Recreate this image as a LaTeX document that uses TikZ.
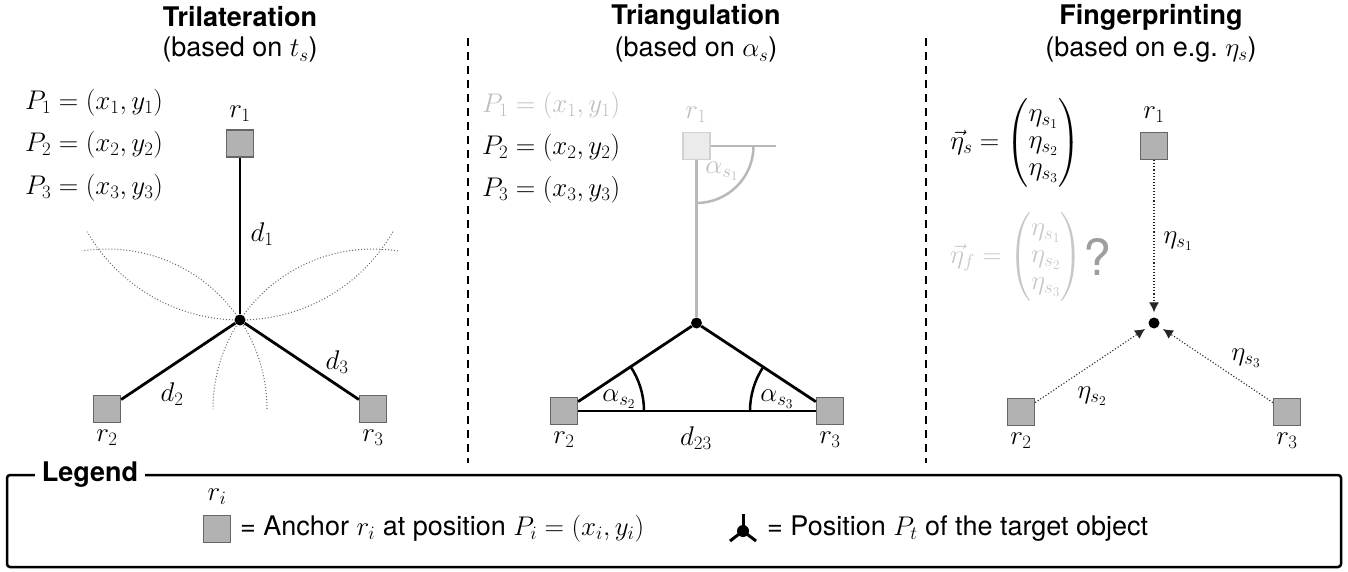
\RequirePackage{fix-cm}
\documentclass[tikz,border=0pt]{standalone}
\usepackage{amsmath}
\usepackage{fontspec}
\setsansfont{TeX Gyre Heros}
\usetikzlibrary{arrows.meta}
\begin{document}
\begin{tikzpicture}[x=1pt,y=-1pt,
  every node/.style={font=\fontsize{27}{32}\selectfont, inner sep=0pt},
  anchorbox/.style={draw=black!60, fill=gray!60, line width=1.3pt, minimum size=27pt, inner sep=0pt},
  ghostbox/.style={draw=black!18, fill=black!8, line width=1.3pt, minimum size=27pt, inner sep=0pt},
  linkline/.style={line width=2.8pt},
  ghostline/.style={draw=black!28, line width=2.6pt},
  ringarc/.style={dotted, draw=black!60, line width=1pt},
  sigline/.style={dotted, draw=black!85, line width=1.1pt, -{Latex[length=10pt,width=10pt]}, shorten >=5pt},
  sepline/.style={dash pattern=on 8pt off 6pt, line width=1.2pt},
  tgtdot/.style={circle, fill=black, minimum size=11pt, inner sep=0pt},
  headtxt/.style={font=\fontsize{27}{32}\selectfont\sffamily\bfseries},
  subtxt/.style={font=\fontsize{27}{32}\selectfont\sffamily},
  ghosttxt/.style={text=black!25}]
\useasboundingbox (0,0) rectangle (1348,572);

% ---------- titles ----------
\node[headtxt] (h1) at (240,17) {Trilateration};
\node[subtxt]  (s1) at (240,50) {(based on $t_s$)};
\node[headtxt] (h2) at (696,17) {Triangulation};
\node[subtxt]  (s2) at (696,50) {(based on $\alpha_s$)};
\node[headtxt] (h3) at (1151,17) {Fingerprinting};
\node[subtxt]  (s3) at (1151,50) {(based on e.g.\ $\eta_s$)};

% ---------- separators ----------
\coordinate (sepAt) at (468,38);
\coordinate (sepAb) at (468,463);
\coordinate (sepBt) at (926,38);
\coordinate (sepBb) at (926,463);
\draw[sepline] (sepAt) -- (sepAb);
\draw[sepline] (sepBt) -- (sepBb);

% ---------- panel 1: trilateration ----------
\node[anchor=west] (p1a) at (25,103) {$P_1 = (x_1, y_1)$};
\node[anchor=west] (p1b) at (25,145) {$P_2 = (x_2, y_2)$};
\node[anchor=west] (p1c) at (25,188) {$P_3 = (x_3, y_3)$};

\node[anchorbox] (a1) at (240,143.5) {};
\node[anchorbox] (a2) at (107,409) {};
\node[anchorbox] (a3) at (373,409) {};
\node (la1) at (240,114) {$r_1$};
\node (la2) at (107,438) {$r_2$};
\node (la3) at (373,438) {$r_3$};

\draw[ringarc] (a1.center) ++(30:176.5) arc[start angle=30, end angle=150, radius=176.5];
\draw[ringarc] (a2.center) ++(0:160) arc[start angle=0, end angle=-99, radius=160];
\draw[ringarc] (a3.center) ++(-81:160) arc[start angle=-81, end angle=-180, radius=160];

\node[tgtdot] (t1) at (240,320) {};
\draw[linkline] (a1) -- (t1);
\draw[linkline] (a2) -- (t1);
\draw[linkline] (a3) -- (t1);
\node (d1) at (262,234) {$d_1$};
\node (d2) at (172,394) {$d_2$};
\node (d3) at (337,362) {$d_3$};

% ---------- panel 2: triangulation ----------
\node[anchor=west, ghosttxt] (p2a) at (482,106) {$P_1 = (x_1, y_1)$};
\node[anchor=west] (p2b) at (482,148) {$P_2 = (x_2, y_2)$};
\node[anchor=west] (p2c) at (482,190) {$P_3 = (x_3, y_3)$};

\node[ghostbox] (b1) at (696.5,146) {};
\node[anchorbox] (b2) at (564,411) {};
\node[anchorbox] (b3) at (830,411) {};
\node[ghosttxt] (lb1) at (696,115) {$r_1$};
\node (lb2) at (564,440) {$r_2$};
\node (lb3) at (830,440) {$r_3$};

\node[tgtdot] (t2) at (696.5,323) {};
\coordinate (b1h) at (776,146);
\draw[draw=black!28, line width=1.5pt] (b1.east) -- (b1h);
\draw[ghostline] (b1) -- (t2);
\draw[draw=black!28, line width=2.5pt] (b1.center) ++(0:57) arc[start angle=0, end angle=90, radius=57];
\node[ghosttxt] (al1) at (722,171) {$\alpha_{s_1}$};

\draw[linkline] (t2) -- (b2);
\draw[linkline] (t2) -- (b3);
\draw[linkline] (b2) -- (b3);
\draw[line width=2.5pt] (b2.center) ++(0:80) arc[start angle=0, end angle=-33.7, radius=80];
\draw[line width=2.5pt] (b3.center) ++(180:80) arc[start angle=180, end angle=213.3, radius=80];
\node (al2) at (619,399) {$\alpha_{s_2}$};
\node (al3) at (777,399) {$\alpha_{s_3}$};
\node (d23) at (696,438) {$d_{23}$};

% ---------- panel 3: fingerprinting ----------
\node[anchor=west] (es) at (950,143) {\renewcommand{\arraystretch}{0.85}$\vec{\eta}_s = \begin{pmatrix}\eta_{s_1}\\ \eta_{s_2}\\ \eta_{s_3}\end{pmatrix}$};
\node[anchor=west, text=black!22] (ef) at (950,257) {\renewcommand{\arraystretch}{0.85}$\vec{\eta}_f = \begin{pmatrix}\eta_{s_1}\\ \eta_{s_2}\\ \eta_{s_3}\end{pmatrix}$};
\node[font=\fontsize{50}{60}\selectfont\sffamily, text=black!38] (qm) at (1097,257) {?};

\node[anchorbox] (c1) at (1154,146) {};
\node[anchorbox] (c2) at (1021,412) {};
\node[anchorbox] (c3) at (1287,412) {};
\node (lc1) at (1154,115) {$r_1$};
\node (lc2) at (1021,441) {$r_2$};
\node (lc3) at (1287,441) {$r_3$};

\node[tgtdot] (t3) at (1154,323) {};
\draw[sigline] (c1) -- (t3);
\draw[sigline] (c2) -- (t3);
\draw[sigline] (c3) -- (t3);
\node (e1) at (1178,241) {$\eta_{s_1}$};
\node (e2) at (1092,396) {$\eta_{s_2}$};
\node (e3) at (1246,358) {$\eta_{s_3}$};

% ---------- legend ----------
\coordinate (legTL) at (7,475);
\coordinate (legBR) at (1341,567);
\draw[line width=2.5pt, rounded corners=3pt] (legTL) rectangle (legBR);
\node[headtxt, fill=white, inner xsep=7pt, inner ysep=2pt] (legt) at (90,475) {Legend};
\node[anchorbox] (lsq) at (217,529) {};
\node (lri) at (217,497) {$r_i$};
\node[anchor=west, subtxt] (ltx1) at (240,529) {= Anchor $r_i$ at position $P_i = (x_i, y_i)$};
\coordinate (lsym) at (743,531);
\fill (lsym) circle (6);
\draw[line width=3pt] (lsym) -- ++(0,-17);
\draw[line width=3pt] (lsym) -- ++(-13,10);
\draw[line width=3pt] (lsym) -- ++(13,10);
\node[anchor=west, subtxt] (ltx2) at (767,529) {= Position $P_t$ of the target object};
\end{tikzpicture}
\end{document}
